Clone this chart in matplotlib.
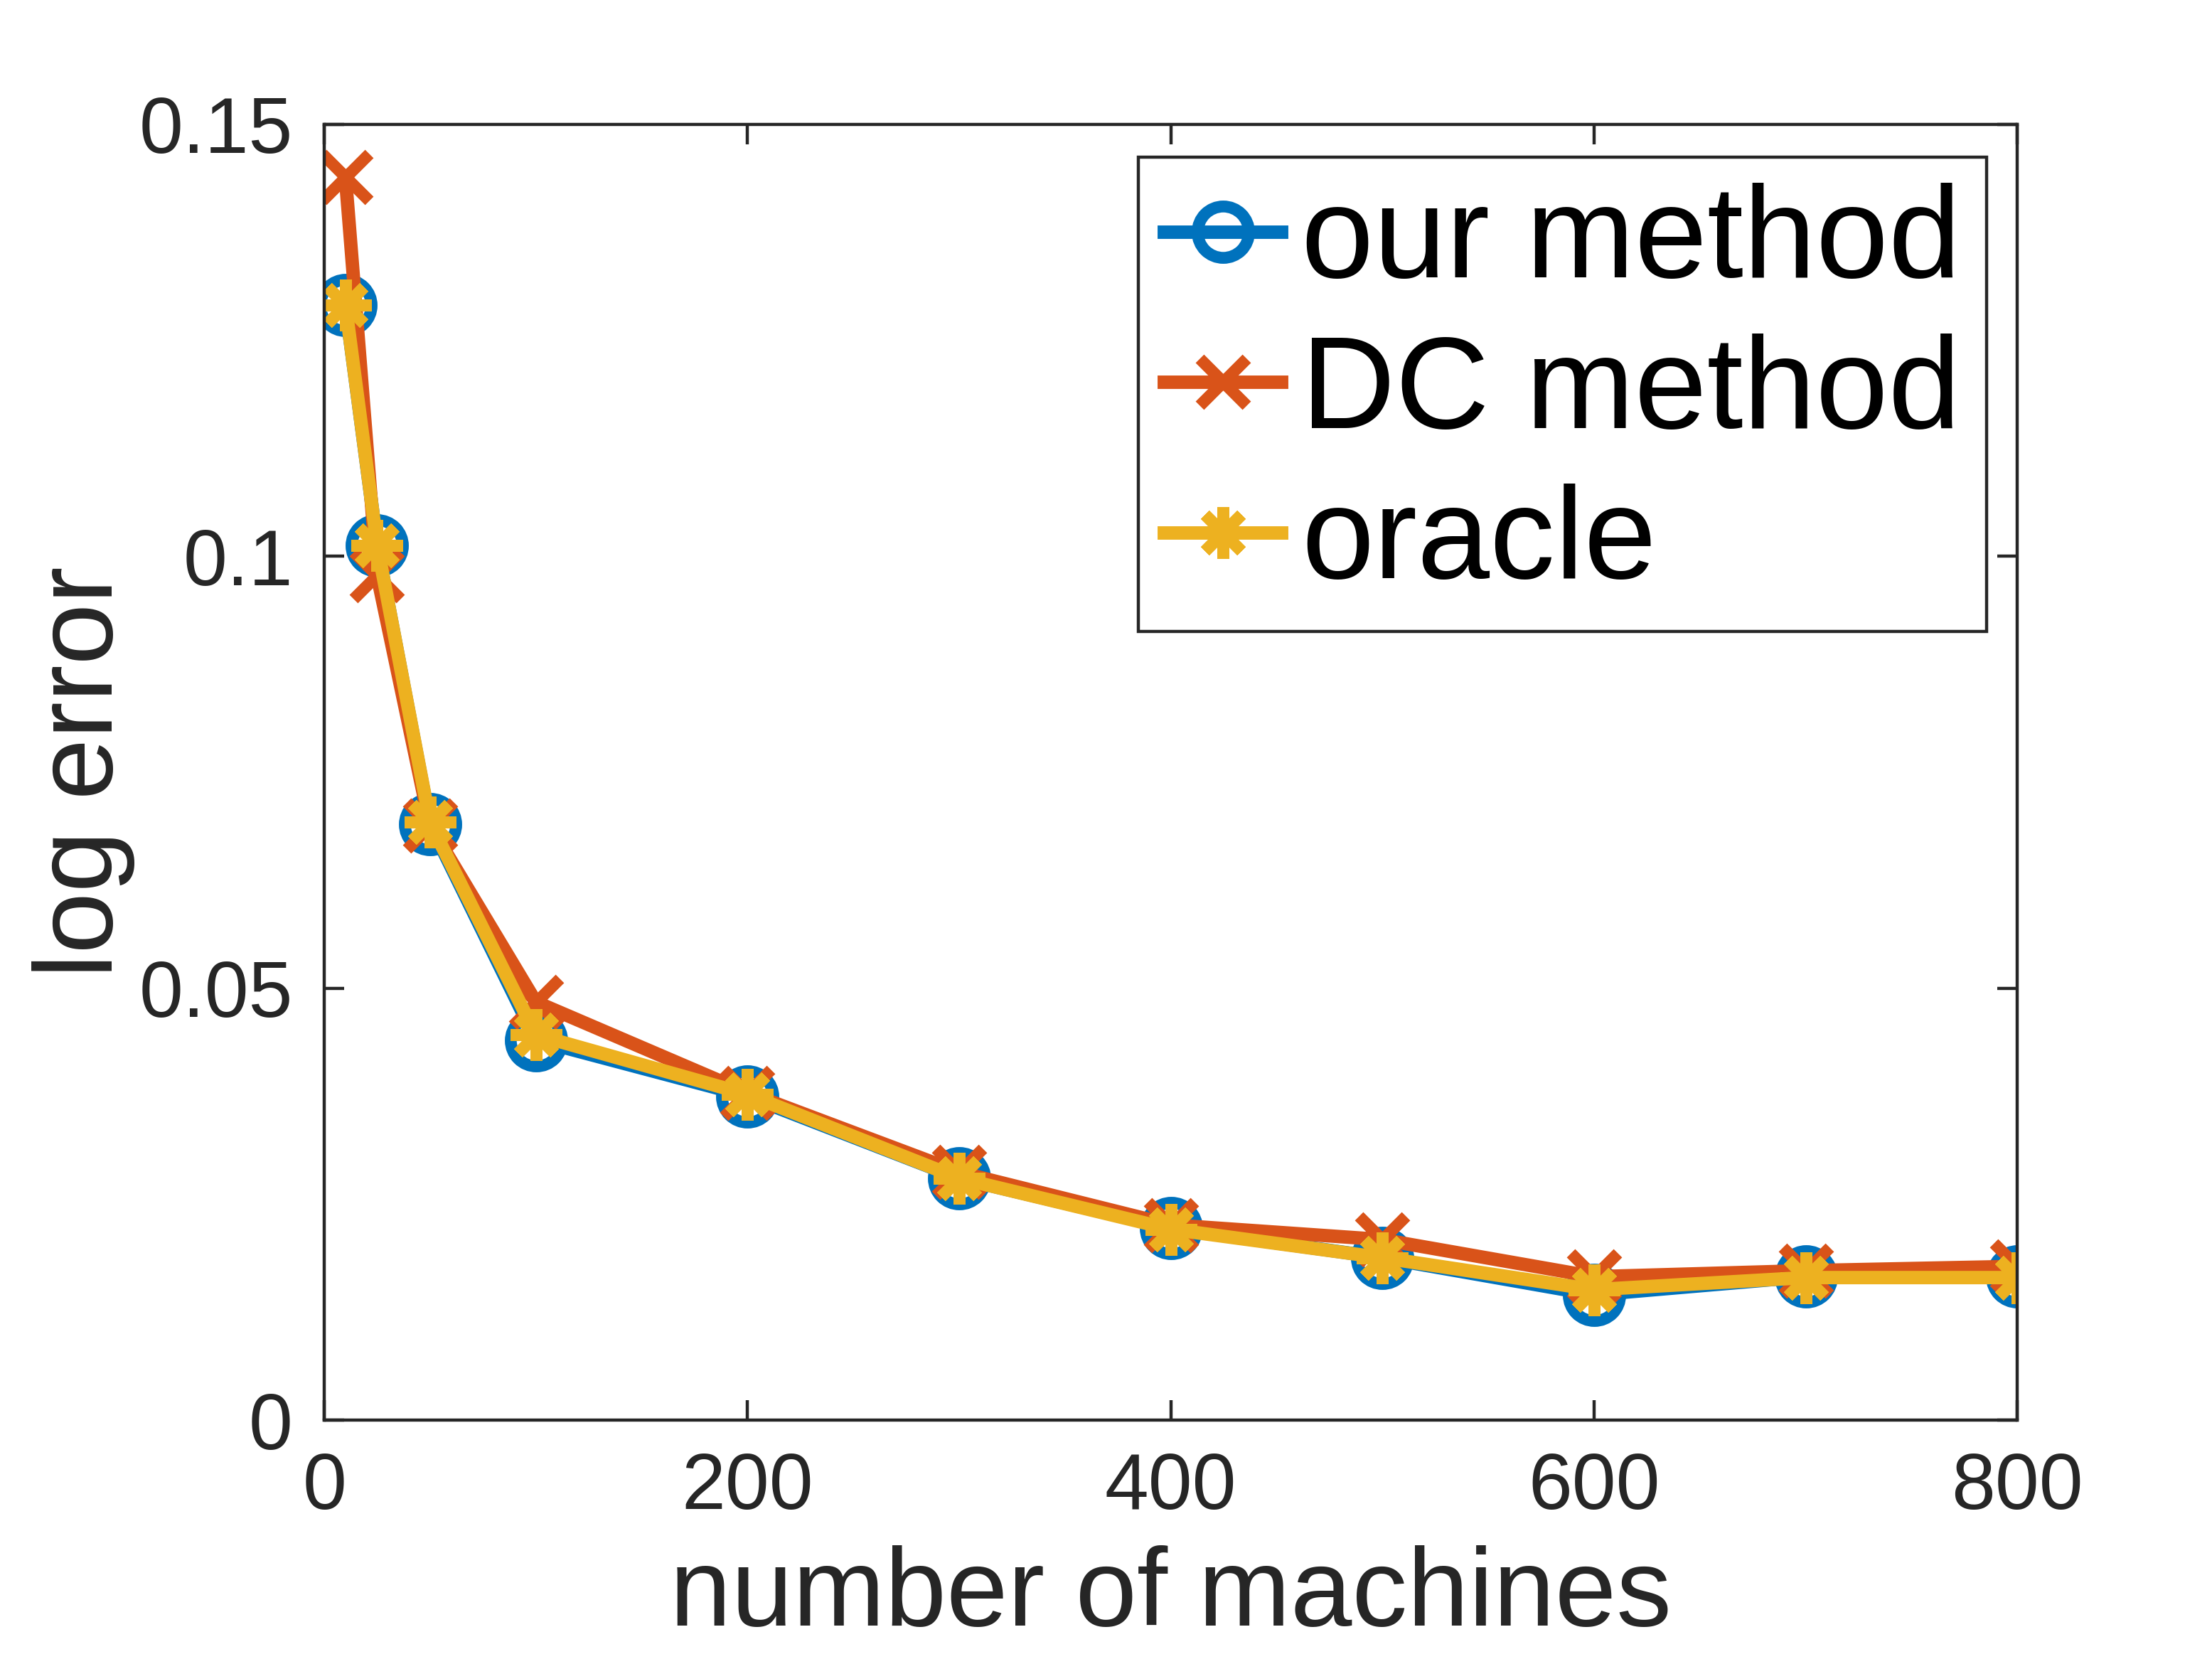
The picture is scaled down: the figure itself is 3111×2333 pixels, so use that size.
import numpy as np
import matplotlib
matplotlib.use('Agg')
from matplotlib import pyplot as plt

plt.rcParams['font.family'] = ['Liberation Sans', 'DejaVu Sans']

machines = [10, 25, 50, 100, 200, 300, 400, 500, 600, 700, 800]
our_method = [0.1291, 0.1013, 0.0690, 0.0440, 0.0375, 0.0280, 0.0222, 0.0188, 0.0145, 0.0166, 0.0166]
dc_method = [0.1439, 0.0978, 0.0688, 0.0484, 0.0379, 0.0287, 0.0226, 0.0209, 0.0166, 0.0173, 0.0178]
oracle = [0.1291, 0.1013, 0.0692, 0.0446, 0.0377, 0.0280, 0.0221, 0.0188, 0.0151, 0.0165, 0.0165]

labels = ['our method', 'DC method', 'oracle']
colors = ['#0072BD', '#D95319', '#EDB120']
markers = ['o', 'x', (8, 2, 0)]
msizes = [13, 12, 13]
axcol = '#262626'

fig = plt.figure(figsize=(7.7775, 5.8325), dpi=400)
ax = fig.add_axes([0.1466, 0.144, 0.7654, 0.781])

for ys, lab, c, m, ms in zip([our_method, dc_method, oracle], labels, colors, markers, msizes):
    ax.plot(machines, ys, color=c, marker=m, markersize=ms, markeredgewidth=3,
            markerfacecolor='none' if m == 'o' else c, linewidth=3.4, label=lab)

ax.set_xlim(0, 800)
ax.set_ylim(0, 0.15)
ax.set_xticks([0, 200, 400, 600, 800])
ax.set_yticks([0, 0.05, 0.1, 0.15])
ax.set_yticklabels(['0', '0.05', '0.1', '0.15'])
ax.tick_params(direction='in', top=True, right=True, length=5, width=0.8,
               colors=axcol, labelsize=20, pad=8)
for s in ax.spines.values():
    s.set_color(axcol)
    s.set_linewidth(0.8)

ax.set_xlabel('number of machines', fontsize=28, color=axcol, labelpad=5)
ax.set_ylabel('log error', fontsize=28, color=axcol, labelpad=1)

leg = ax.legend(loc='upper right', bbox_to_anchor=(0.982, 0.975), fontsize=33,
                fancybox=False, framealpha=1, edgecolor=axcol, handlelength=0.9,
                handletextpad=0.15, borderpad=0.2, labelspacing=0.22, borderaxespad=0)
leg.get_frame().set_linewidth(0.8)

fig.savefig('out.png', dpi=400)
